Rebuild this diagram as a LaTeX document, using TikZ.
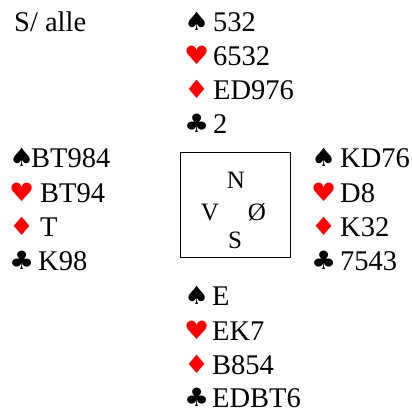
\documentclass[tikz,border=0pt]{standalone}
\usepackage{fontspec}
\setmainfont{Liberation Serif}
\newfontfamily\suitfont{DejaVu Sans}
\usepackage{tikz}

% suit symbols
\newcommand{\suitsym}[1]{\raisebox{1pt}{\scalebox{1.22}[1.1]{\suitfont\fontsize{23}{23}\selectfont #1}}}
\newcommand{\spar}{\suitsym{♠}}
\newcommand{\hjerter}{{\color{red}\suitsym{♥}}}
\newcommand{\ruter}{{\color{red}\suitsym{♦}}}
\newcommand{\klover}{\suitsym{♣}}
\newcommand{\suit}[2]{\makebox[#1][l]{#2}}

\begin{document}
\begin{tikzpicture}[x=1pt, y=-1pt,
    hand/.style={anchor=base west, inner sep=0pt, font=\fontsize{28.5}{34}\selectfont},
    dir/.style={anchor=base, inner sep=0pt, font=\fontsize{25}{28}\selectfont}]
    \useasboundingbox (0,0) rectangle (412,410);

    \node[hand] (info) at (14,31) {S/ alle};

    % Nord
    \node[hand] (n1) at (184,31) {\suit{29pt}{\spar}532};
    \node[hand] (n2) at (184,65.2) {\suit{29pt}{\hjerter}6532};
    \node[hand] (n3) at (184,99.4) {\suit{29pt}{\ruter}ED976};
    \node[hand] (n4) at (184,133.6) {\suit{29pt}{\klover}2};

    % Vest
    \node[hand] (v1) at (9,167.8) {\suit{22pt}{\spar}BT984};
    \node[hand] (v2) at (9,202) {\suit{31pt}{\hjerter}BT94};
    \node[hand] (v3) at (9,236.2) {\suit{31pt}{\ruter}T};
    \node[hand] (v4) at (9,270.4) {\suit{29pt}{\klover}K98};

    % Øst
    \node[hand] (o1) at (311,167.8) {\suit{29pt}{\spar}KD76};
    \node[hand] (o2) at (311,202) {\suit{29pt}{\hjerter}D8};
    \node[hand] (o3) at (311,236.2) {\suit{29pt}{\ruter}K32};
    \node[hand] (o4) at (311,270.4) {\suit{29pt}{\klover}7543};

    % Syd
    \node[hand] (s1) at (184,305.6) {\suit{28pt}{\spar}E};
    \node[hand] (s2) at (184,340.4) {\suit{28pt}{\hjerter}EK7};
    \node[hand] (s3) at (184,374.2) {\suit{28pt}{\ruter}B854};
    \node[hand] (s4) at (184,407.5) {\suit{28pt}{\klover}EDBT6};

    % bord
    \node[draw, line width=1pt, minimum width=110pt, minimum height=105pt] (bord) at (235,204.5) {};
    \node[dir] (N) at (236,188) {N};
    \node[dir] (V) at (210,220) {V};
    \node[dir] (O) at (257,220) {Ø};
    \node[dir] (S) at (235,248) {S};
\end{tikzpicture}
\end{document}
